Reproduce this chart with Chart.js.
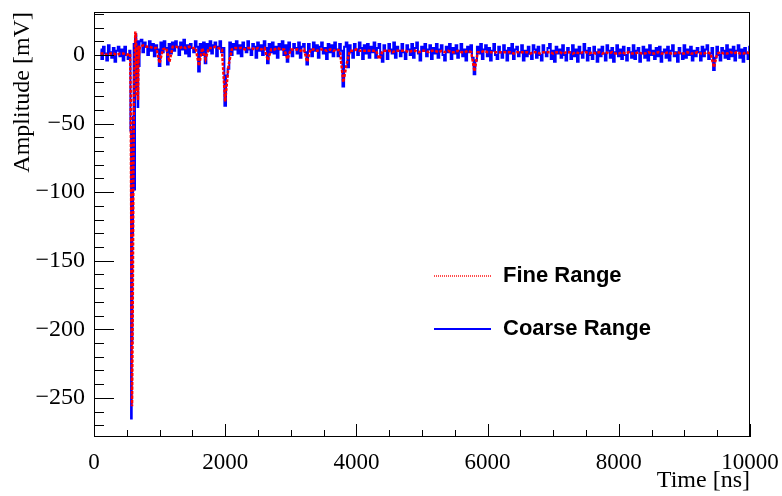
<!DOCTYPE html>
<html>
<head>
<meta charset="utf-8">
<title>Amplitude vs Time</title>
<script src="https://cdn.jsdelivr.net/npm/chart.js@4.4.1/dist/chart.umd.min.js"></script>
<style>
  html, body { margin: 0; padding: 0; background: #ffffff; }
  canvas { display: block; }
</style>
</head>
<body>
<canvas id="waveChart" width="782" height="496"></canvas>
<script>
// fine range: sample times [ns] and amplitudes [mV]
const fineTimes = [
  100, 150, 200, 250, 300, 350, 400, 450, 500, 550,
  560, 570, 580, 590, 600, 610, 620, 630, 640, 650, 660, 670, 680, 690, 700,
  750, 800, 850, 900, 950, 1000, 1050, 1100, 1150, 1200,
  1250, 1300, 1350, 1400, 1450, 1500, 1550, 1600, 1650, 1700,
  1750, 1800, 1850, 1900, 1950, 2000, 2050, 2100, 2150, 2200,
  2250, 2300, 2350, 2400, 2450, 2500, 2550, 2600, 2650, 2700,
  2750, 2800, 2850, 2900, 2950, 3000, 3050, 3100, 3150, 3200,
  3250, 3300, 3350, 3400, 3450, 3500, 3550, 3600, 3650, 3700,
  3750, 3800, 3850, 3900, 3950, 4000, 4050, 4100, 4150, 4200,
  4250, 4300, 4350, 4400, 4450, 4500, 4550, 4600, 4650, 4700,
  4750, 4800, 4850, 4900, 4950, 5000, 5050, 5100, 5150, 5200,
  5250, 5300, 5350, 5400, 5450, 5500, 5550, 5600, 5650, 5700,
  5750, 5800, 5850, 5900, 5950, 6000, 6050, 6100, 6150, 6200,
  6250, 6300, 6350, 6400, 6450, 6500, 6550, 6600, 6650, 6700,
  6750, 6800, 6850, 6900, 6950, 7000, 7050, 7100, 7150, 7200,
  7250, 7300, 7350, 7400, 7450, 7500, 7550, 7600, 7650, 7700,
  7750, 7800, 7850, 7900, 7950, 8000, 8050, 8100, 8150, 8200,
  8250, 8300, 8350, 8400, 8450, 8500, 8550, 8600, 8650, 8700,
  8750, 8800, 8850, 8900, 8950, 9000, 9050, 9100, 9150, 9200,
  9250, 9300, 9350, 9400, 9450, 9500, 9550, 9600, 9650, 9700,
  9750, 9800, 9850, 9900, 9950, 10000
];
const fineRange = [
  1, 1, 0, 1, 1, 0, 1, 1, 0, 1,
  -30, -150, -256, -190, -90, -20, -5, 17, 14, -30, 6, -33, 7, 2, 6,
  7, 6, 6, 5, 5, -6, 4, 5, -5, 6,
  6, 5, 6, 5, 6, 5, 5, -8, 5, -3,
  5, 5, 6, 5, 4, -34, -8, 4, 5, 5,
  5, 4, 5, 5, 4, 5, 4, 5, -4, 4,
  4, 5, 4, 4, -3, 4, 4, 4, 3, 4,
  -5, 4, 4, 3, 4, 4, 3, 4, 3, 4,
  3, -20, -7, 3, 3, 4, 3, 3, 3, 3,
  3, 3, -3, 3, 3, 3, 2, 3, 3, 3,
  3, 2, 3, 3, 2, 3, 3, 2, 3, 3,
  2, 3, 2, 3, 2, 2, 3, 2, 2, 3,
  2, -12, 2, 2, 3, 2, 2, 2, 2, 2,
  2, 2, 2, 1, 2, 2, 2, 2, 1, 2,
  2, 1, 2, 2, 2, 1, 2, 2, 1, 2,
  2, 1, 2, 1, 2, 2, 1, 2, 1, 2,
  1, 2, 1, 2, 1, 1, 2, 1, 2, 1,
  1, 2, 1, 1, 2, 1, 1, 2, 1, 1,
  2, 1, 1, 2, 1, 1, 2, 1, 1, 2,
  1, 1, 2, 1, -9, 1, 2, 1, 1, 2,
  1, 2, 1, 1, 2, 1
];

// coarse range: sample times [ns] and amplitudes [mV]
const coarseTimes = [
  100, 125, 150, 175, 200, 225, 250, 275, 300, 325, 350, 375, 400, 425, 450, 475, 500, 525, 550,
  560, 570, 580, 590, 600, 610, 620, 630, 640, 650, 660, 670, 680, 690, 700,
  725, 750, 775, 800, 825, 850, 875, 900, 925, 950, 975, 1000, 1025, 1050, 1075, 1100, 1125, 1150, 1175, 1200,
  1225, 1250, 1275, 1300, 1325, 1350, 1375, 1400, 1425, 1450, 1475, 1500, 1525, 1550, 1575, 1600, 1625, 1650, 1675, 1700,
  1725, 1750, 1775, 1800, 1825, 1850, 1875, 1900, 1925, 1950, 1975, 2000, 2025, 2050, 2075, 2100, 2125, 2150, 2175, 2200,
  2225, 2250, 2275, 2300, 2325, 2350, 2375, 2400, 2425, 2450, 2475, 2500, 2525, 2550, 2575, 2600, 2625, 2650, 2675, 2700,
  2725, 2750, 2775, 2800, 2825, 2850, 2875, 2900, 2925, 2950, 2975, 3000, 3025, 3050, 3075, 3100, 3125, 3150, 3175, 3200,
  3225, 3250, 3275, 3300, 3325, 3350, 3375, 3400, 3425, 3450, 3475, 3500, 3525, 3550, 3575, 3600, 3625, 3650, 3675, 3700,
  3725, 3750, 3775, 3800, 3825, 3850, 3875, 3900, 3925, 3950, 3975, 4000, 4025, 4050, 4075, 4100, 4125, 4150, 4175, 4200,
  4225, 4250, 4275, 4300, 4325, 4350, 4375, 4400, 4425, 4450, 4475, 4500, 4525, 4550, 4575, 4600, 4625, 4650, 4675, 4700,
  4725, 4750, 4775, 4800, 4825, 4850, 4875, 4900, 4925, 4950, 4975, 5000, 5025, 5050, 5075, 5100, 5125, 5150, 5175, 5200,
  5225, 5250, 5275, 5300, 5325, 5350, 5375, 5400, 5425, 5450, 5475, 5500, 5525, 5550, 5575, 5600, 5625, 5650, 5675, 5700,
  5725, 5750, 5775, 5800, 5825, 5850, 5875, 5900, 5925, 5950, 5975, 6000, 6025, 6050, 6075, 6100, 6125, 6150, 6175, 6200,
  6225, 6250, 6275, 6300, 6325, 6350, 6375, 6400, 6425, 6450, 6475, 6500, 6525, 6550, 6575, 6600, 6625, 6650, 6675, 6700,
  6725, 6750, 6775, 6800, 6825, 6850, 6875, 6900, 6925, 6950, 6975, 7000, 7025, 7050, 7075, 7100, 7125, 7150, 7175, 7200,
  7225, 7250, 7275, 7300, 7325, 7350, 7375, 7400, 7425, 7450, 7475, 7500, 7525, 7550, 7575, 7600, 7625, 7650, 7675, 7700,
  7725, 7750, 7775, 7800, 7825, 7850, 7875, 7900, 7925, 7950, 7975, 8000, 8025, 8050, 8075, 8100, 8125, 8150, 8175, 8200,
  8225, 8250, 8275, 8300, 8325, 8350, 8375, 8400, 8425, 8450, 8475, 8500, 8525, 8550, 8575, 8600, 8625, 8650, 8675, 8700,
  8725, 8750, 8775, 8800, 8825, 8850, 8875, 8900, 8925, 8950, 8975, 9000, 9025, 9050, 9075, 9100, 9125, 9150, 9175, 9200,
  9225, 9250, 9275, 9300, 9325, 9350, 9375, 9400, 9425, 9450, 9475, 9500, 9525, 9550, 9575, 9600, 9625, 9650, 9675, 9700,
  9725, 9750, 9775, 9800, 9825, 9850, 9875, 9900, 9925, 9950, 9975, 10000
];
const coarseRange = [
  4, -3, 6, 1, -4, 7, 2, -2, 5, -5, 3, 6, -1, 4, -4, 6, 0, -3, 3,
  -55, -265, -210, -130, -45, 8, -98, 12, 15, -25, 10, -38, 9, -8, 10,
  11, 2, 9, 6, 0, 10, 3, 8, -1, 7, 4, -8, 9, 2, 10, 5, -7, 8, 1, 9,
  3, 10, 6, 0, 9, 4, 11, 1, 7, -1, 8, 5, 2, 10, 6, -12, 8, 0, 9, -6,
  8, 3, 10, 1, 7, 9, -1, 6, 10, 2, 5, -37, -15, -10, 9, 0, 8, 4, 10, 1,
  7, -1, 9, 5, 2, 10, 4, 0, 8, 6, -2, 9, 3, 7, 0, 10, 5, -6, 8, 2,
  9, 1, 6, -2, 8, 4, 10, 0, 7, -5, 9, 3, -1, 8, 5, 1, 9, -2, 6, 8,
  2, -7, 8, 4, -1, 9, 3, 7, -2, 6, 9, 1, 5, -3, 8, 2, 7, -1, 9, 4,
  -1, 8, 3, -23, 6, 9, -9, 7, 2, -2, 8, 4, 0, 9, 5, -3, 7, 1, 8, -2,
  6, 2, 9, -2, 5, 8, 0, -5, 7, 3, -3, 8, 4, 1, 9, -2, 6, 3, -1, 8,
  2, -3, 7, 4, 0, 8, -2, 5, 9, 1, -4, 6, 3, 8, -1, 4, 7, -3, 5, 1,
  8, -2, 4, 7, 0, -4, 6, 2, 8, -3, 5, 1, 7, -2, 3, 8, -1, 4, -4, 6,
  2, 7, -2, -14, -4, 6, 1, 8, -3, 4, 7, -1, 5, -4, 3, 8, 0, -3, 6, 2,
  -2, 7, 3, -4, 5, 1, 8, -3, 4, 6, -1, 2, 7, -4, 3, -1, 6, 1, -3, 7,
  4, -2, 6, 0, -4, 7, 2, -1, 5, 8, -3, 3, -5, 6, 1, 4, -2, 7, 0, -4,
  5, 2, -3, 7, -1, 4, -5, 6, 1, -2, 8, 3, -4, 5, 0, -3, 6, 2, -5, 4,
  -1, 6, 1, -4, 7, 3, -2, 5, -5, 2, 7, -1, 4, -3, 6, 0, -4, 5, 2, -2,
  7, -3, 3, 5, -5, 1, 6, -2, 4, -4, 7, 0, 3, -3, 5, -1, 6, -5, 2, 4,
  -2, 6, -4, 3, 7, -1, 2, -5, 5, 1, -3, 7, -2, 4, 0, 6, -4, 3, -1, 5,
  2, -4, 6, -1, 4, 7, -3, 1, 5, -11, -2, 6, 0, -4, 5, 3, -2, 7, -3, 4,
  -1, 6, -4, 3, 7, -2, 4, -5, 5, 1, -3, 6
];

const xTicks = [0, 2000, 4000, 6000, 8000, 10000];
const yTicks = [-250, -200, -150, -100, -50, 0];
const seriesNames = ['Fine Range', 'Coarse Range'];

const serif = "'Liberation Serif', 'Times New Roman', serif";
const sans = "'Liberation Sans', Arial, Helvetica, sans-serif";

function toPoints(ts, values) {
  return ts.map((t, i) => ({ x: t, y: values[i] }));
}

// frame, inward ticks and the legend box
const framePlugin = {
  id: 'frame',
  afterDraw(chart) {
    const { ctx, chartArea: a, scales: { x, y } } = chart;
    ctx.save();
    ctx.strokeStyle = '#000';
    ctx.lineWidth = 1;
    ctx.strokeRect(Math.round(a.left) + 0.5, Math.round(a.top) + 0.5,
      Math.round(a.right - a.left) - 1, Math.round(a.bottom - a.top) - 1);

    ctx.beginPath();
    for (let v = 0; v <= 10000; v += 500) {
      const px = Math.round(x.getPixelForValue(v)) + 0.5;
      const len = v % 2000 === 0 ? 13 : 7;
      ctx.moveTo(px, a.bottom);
      ctx.lineTo(px, a.bottom - len);
    }
    for (let v = -270; v <= 30; v += 10) {
      const py = Math.round(y.getPixelForValue(v)) + 0.5;
      const len = v % 50 === 0 ? 20 : 10;
      ctx.moveTo(a.left, py);
      ctx.lineTo(a.left + len, py);
    }
    ctx.stroke();

    // legend
    const entries = [
      { color: 'rgba(255,0,0,0.7)', dash: [1, 1], y: 276 },
      { color: '#0000ff', dash: [], y: 329 }
    ];
    ctx.font = 'bold 22px ' + sans;
    ctx.textBaseline = 'middle';
    ctx.textAlign = 'left';
    ctx.fillStyle = '#000';
    entries.forEach((e, i) => {
      ctx.beginPath();
      ctx.setLineDash(e.dash);
      ctx.strokeStyle = e.color;
      ctx.lineWidth = 2;
      ctx.moveTo(434, e.y);
      ctx.lineTo(491, e.y);
      ctx.stroke();
      ctx.setLineDash([]);
      ctx.fillText(seriesNames[i], 503, e.y);
    });
    ctx.restore();
  }
};

const chart = new Chart(document.getElementById('waveChart').getContext('2d'), {
  type: 'line',
  data: {
    datasets: [
      {
        label: seriesNames[0],
        data: toPoints(fineTimes, fineRange),
        borderColor: '#ff0000',
        borderWidth: 2.5,
        borderDash: [3, 1.5],
        pointRadius: 0,
        tension: 0,
        fill: false
      },
      {
        label: seriesNames[1],
        data: toPoints(coarseTimes, coarseRange),
        borderColor: '#0000ff',
        borderWidth: 2,
        stepped: 'middle',
        pointRadius: 0,
        fill: false
      }
    ]
  },
  options: {
    responsive: false,
    animation: false,
    devicePixelRatio: 1,
    layout: { padding: { left: 0, right: 32, top: 12, bottom: 0 } },
    plugins: {
      legend: { display: false },
      tooltip: { enabled: false }
    },
    scales: {
      x: {
        type: 'linear',
        min: 0,
        max: 10000,
        grid: { display: false, drawTicks: false },
        border: { display: false },
        afterBuildTicks: axis => { axis.ticks = xTicks.map(v => ({ value: v })); },
        afterFit: axis => {
          axis.height = 59;
          axis.paddingLeft = 0;
          axis.paddingRight = 0;
        },
        ticks: {
          padding: 12,
          color: '#000',
          maxRotation: 0,
          font: { family: serif, size: 23 },
          callback: v => String(v)
        },
        title: {
          display: true,
          text: 'Time [ns]',
          align: 'end',
          color: '#000',
          font: { family: serif, size: 24 },
          padding: { top: 0, bottom: 1 }
        }
      },
      y: {
        type: 'linear',
        min: -278.5,
        max: 31.3,
        grid: { display: false, drawTicks: false },
        border: { display: false },
        afterBuildTicks: axis => { axis.ticks = yTicks.map(v => ({ value: v })); },
        afterFit: axis => {
          axis.width = 94;
          axis.paddingTop = 0;
          axis.paddingBottom = 0;
        },
        ticks: {
          padding: 9,
          color: '#000',
          font: { family: serif, size: 24 },
          callback: v => String(v).replace('-', '\u2212')
        },
        title: {
          display: true,
          text: 'Amplitude [mV]',
          align: 'end',
          color: '#000',
          font: { family: serif, size: 24 },
          padding: { top: 8, bottom: 0 }
        }
      }
    }
  },
  plugins: [framePlugin]
});
</script>
</body>
</html>
